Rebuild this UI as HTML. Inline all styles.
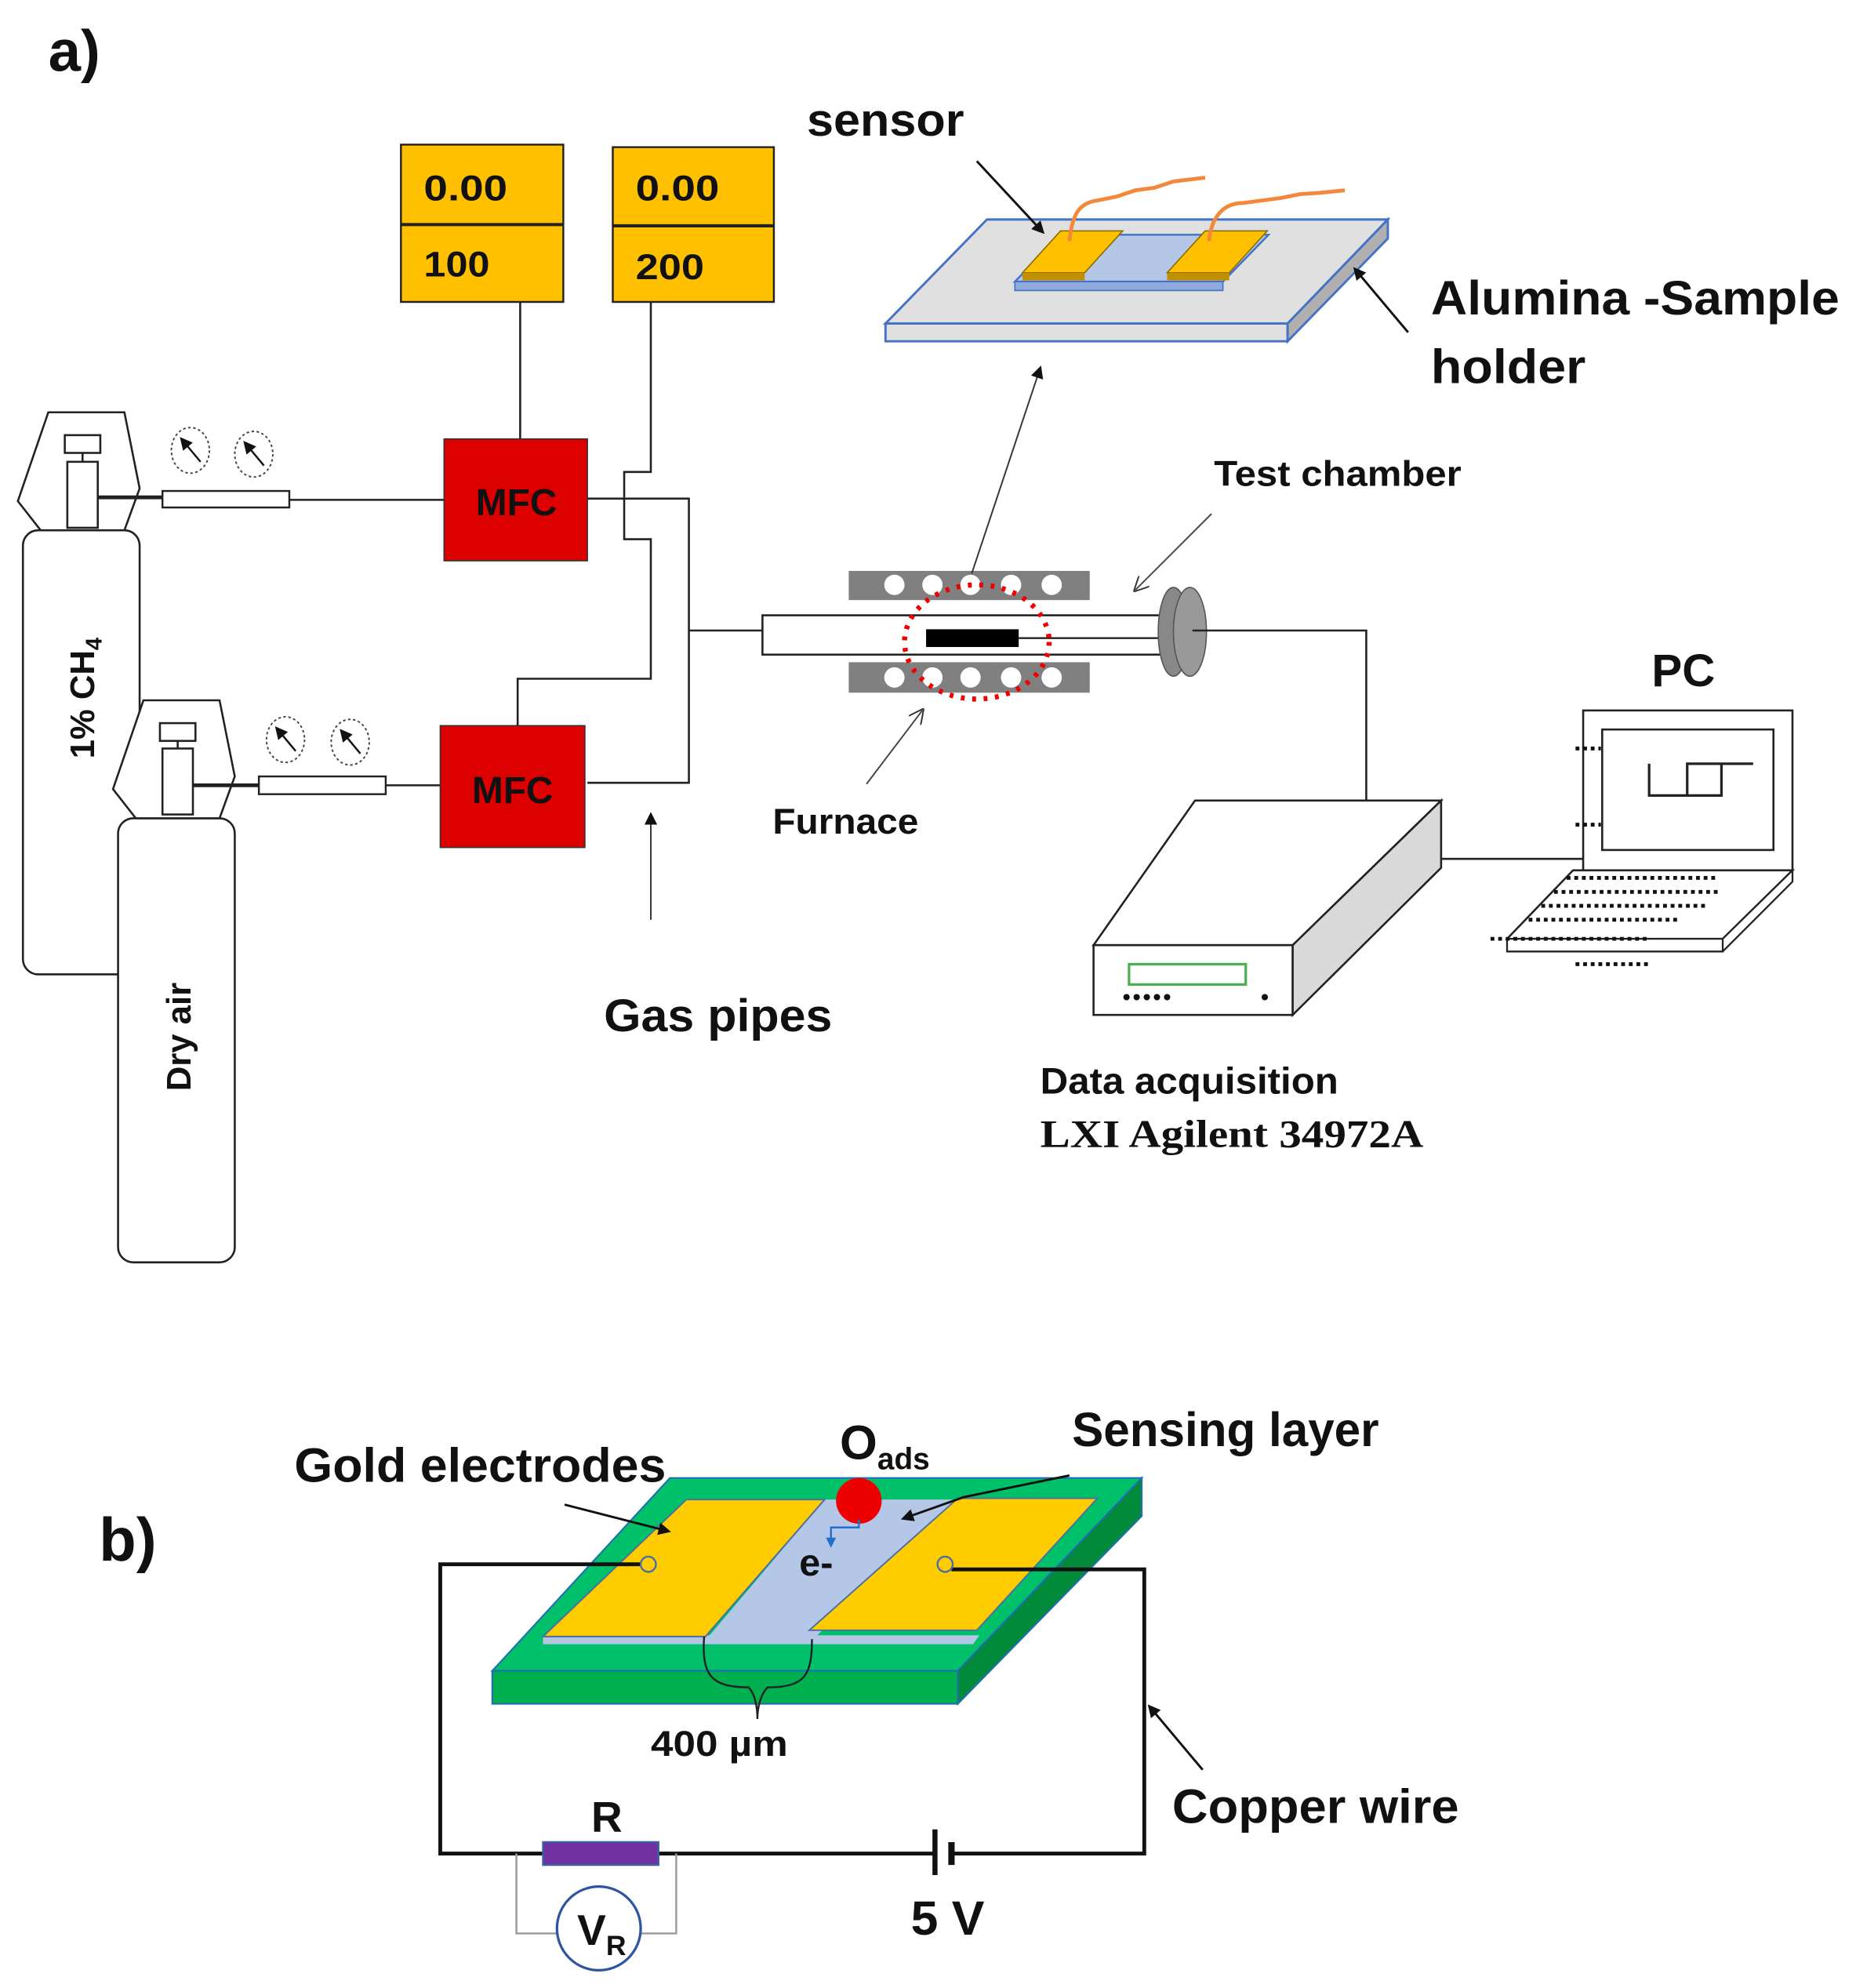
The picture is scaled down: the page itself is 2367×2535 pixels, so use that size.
<!DOCTYPE html>
<html><head><meta charset="utf-8"><style>
html,body{margin:0;padding:0;background:#fff}
svg{display:block}
text{font-family:"Liberation Sans",sans-serif;font-weight:bold;fill:#111}
</style></head><body>
<svg width="2367" height="2535" viewBox="0 0 1463 1567" xmlns="http://www.w3.org/2000/svg">
<defs>
<marker id="ah" markerWidth="10" markerHeight="10" refX="8" refY="5" orient="auto" markerUnits="userSpaceOnUse"><path d="M0,0 L10,5 L0,10 z" fill="#111"/></marker>
<marker id="ahs" markerWidth="12" markerHeight="12" refX="10" refY="6" orient="auto" markerUnits="userSpaceOnUse"><path d="M0,0 L12,6 L0,12 M12,6" fill="none" stroke="#333" stroke-width="1.2"/></marker>
</defs>
<rect width="1463" height="1567" fill="#fff"/>
<text x="38" y="56" font-size="46">a)</text>

<g stroke="#222" stroke-width="1.5">
<rect x="316" y="114" width="128" height="124" fill="#FFC000"/>
<line x1="316" y1="177" x2="444" y2="177" stroke-width="2.5"/>
<rect x="483" y="116" width="127" height="122" fill="#FFC000"/>
<line x1="483" y1="178" x2="610" y2="178" stroke-width="2.5"/>
</g>
<text x="334" y="158" font-size="28" textLength="66" lengthAdjust="spacingAndGlyphs">0.00</text>
<text x="334" y="218" font-size="28" textLength="52" lengthAdjust="spacingAndGlyphs">100</text>
<text x="501" y="158" font-size="28" textLength="66" lengthAdjust="spacingAndGlyphs">0.00</text>
<text x="501" y="220" font-size="28" textLength="54" lengthAdjust="spacingAndGlyphs">200</text>

<g fill="none" stroke="#222" stroke-width="1.6">
<line x1="410" y1="238" x2="410" y2="346"/>
<path d="M513,238 V372 H492 V425 H513 V535 H408 V572"/>
<path d="M463,393 H543 V617 H463"/>
<line x1="543" y1="497" x2="601" y2="497"/>
<line x1="228" y1="394" x2="350" y2="394"/>
<line x1="304" y1="619" x2="347" y2="619"/>
</g>

<rect x="350" y="346" width="113" height="96" fill="#DD0000" stroke="#333"/>
<rect x="347" y="572" width="114" height="96" fill="#DD0000" stroke="#333"/>
<text x="375" y="406" font-size="30" textLength="64" lengthAdjust="spacingAndGlyphs">MFC</text>
<text x="372" y="633" font-size="30" textLength="64" lengthAdjust="spacingAndGlyphs">MFC</text>

<g stroke="#222" stroke-width="1.6" fill="#fff">
<rect x="18" y="418" width="92" height="350" rx="12"/>
<path d="M38,325 H98 L110,385 L98,418 H32 L14,395 Z"/>
<rect x="93" y="645" width="92" height="350" rx="12"/>
<path d="M113,552 H173 L185,612 L173,645 H107 L89,622 Z"/>
</g>
<g fill="#fff" stroke="#222" stroke-width="1.6">
<rect x="53" y="364" width="24" height="52"/>
<rect x="51" y="343" width="28" height="14"/>
<line x1="65" y1="357" x2="65" y2="364"/>
<rect x="128" y="590" width="24" height="52"/>
<rect x="126" y="570" width="28" height="14"/>
<line x1="140" y1="584" x2="140" y2="590"/>
</g>
<g stroke="#222" stroke-width="3"><line x1="77" y1="392" x2="128" y2="392"/><line x1="152" y1="619" x2="204" y2="619"/></g>
<rect x="128" y="387" width="100" height="13" fill="#fff" stroke="#222" stroke-width="1.5"/>
<rect x="204" y="612" width="100" height="14" fill="#fff" stroke="#222" stroke-width="1.5"/>
<g fill="none" stroke="#444" stroke-width="1.2" stroke-dasharray="2,2">
<ellipse cx="150" cy="355" rx="15" ry="18"/><ellipse cx="200" cy="358" rx="15" ry="18"/>
<ellipse cx="225" cy="583" rx="15" ry="18"/><ellipse cx="276" cy="585" rx="15" ry="18"/>
</g>
<g stroke="#111" stroke-width="1.5" marker-end="url(#ah)">
<line x1="158" y1="364" x2="143" y2="346"/><line x1="208" y1="367" x2="193" y2="349"/>
<line x1="233" y1="592" x2="218" y2="574"/><line x1="284" y1="594" x2="269" y2="576"/>
</g>
<text transform="translate(74,598) rotate(-90)" font-size="27">1% CH<tspan font-size="18" dy="6">4</tspan></text>
<text transform="translate(150,860) rotate(-90)" font-size="27">Dry air</text>

<rect x="669" y="450" width="190" height="23" fill="#808080"/>
<rect x="669" y="522" width="190" height="24" fill="#808080"/>
<g fill="#fff"><circle cx="705" cy="461" r="8"/><circle cx="735" cy="461" r="8"/><circle cx="765" cy="461" r="8"/><circle cx="797" cy="461" r="8"/><circle cx="829" cy="461" r="8"/>
<circle cx="705" cy="534" r="8"/><circle cx="735" cy="534" r="8"/><circle cx="765" cy="534" r="8"/><circle cx="797" cy="534" r="8"/><circle cx="829" cy="534" r="8"/></g>
<rect x="601" y="485" width="319" height="31" fill="#fff" stroke="#222" stroke-width="1.6"/>
<line x1="803" y1="503" x2="920" y2="503" stroke="#222" stroke-width="1.5"/>
<rect x="730" y="496" width="73" height="14" fill="#000"/>
<ellipse cx="770" cy="506" rx="57" ry="45" fill="none" stroke="#E00" stroke-width="4" stroke-dasharray="3,6"/>
<ellipse cx="925" cy="498" rx="12" ry="35" fill="#888" stroke="#555"/>
<ellipse cx="938" cy="498" rx="13" ry="35" fill="#999" stroke="#555"/>
<g fill="none" stroke="#222" stroke-width="1.6"><path d="M940,497 H1077 V632"/><line x1="1136" y1="677" x2="1248" y2="677"/></g>

<path d="M698,255 L778,173 H1094 L1015,255 Z" fill="#E0E0E0" stroke="#4472C4" stroke-width="1.8"/>
<path d="M698,255 H1015 V269 H698 Z" fill="#E0E0E0" stroke="#4472C4" stroke-width="1.8"/>
<path d="M1015,255 L1094,173 V188 L1015,269 Z" fill="#B0B0B0" stroke="#4472C4" stroke-width="1.8"/>
<path d="M800,222 L836,185 H1000 L964,222 Z" fill="#B4C7E7" stroke="#4472C4" stroke-width="1.5"/>
<path d="M800,222 H964 V229 H800 Z" fill="#8FAADC" stroke="#4472C4"/>
<path d="M806,215 L836,182 H885 L855,215 Z" fill="#FFC000" stroke="#8a6d00"/>
<path d="M806,215 H855 V221 H806 Z" fill="#C09000"/>
<path d="M920,215 L950,182 H999 L969,215 Z" fill="#FFC000" stroke="#8a6d00"/>
<path d="M920,215 H969 V221 H920 Z" fill="#C09000"/>
<g fill="none" stroke="#F4883A" stroke-width="3">
<path d="M843,190 C845,170 850,160 865,158 L880,155 L895,150 L910,148 L925,143 L950,140"/>
<path d="M953,190 C955,170 965,160 980,160 L995,158 L1010,156 L1025,153 L1040,152 L1060,150"/>
</g>
<text x="636" y="107" font-size="36" textLength="124" lengthAdjust="spacingAndGlyphs">sensor</text>
<line x1="770" y1="127" x2="822" y2="183" stroke="#111" stroke-width="1.8" marker-end="url(#ah)"/>
<text x="1128" y="248" font-size="38" textLength="322" lengthAdjust="spacingAndGlyphs">Alumina -Sample</text>
<text x="1128" y="302" font-size="38" textLength="122" lengthAdjust="spacingAndGlyphs">holder</text>
<line x1="1110" y1="262" x2="1068" y2="212" stroke="#111" stroke-width="1.8" marker-end="url(#ah)"/>
<line x1="766" y1="452" x2="820" y2="290" stroke="#333" stroke-width="1.2" marker-end="url(#ah)"/>

<text x="957" y="383" font-size="28" textLength="195" lengthAdjust="spacingAndGlyphs">Test chamber</text>
<line x1="955" y1="405" x2="895" y2="465" stroke="#444" stroke-width="1.2" marker-end="url(#ahs)"/>
<text x="609" y="657" font-size="28" textLength="115" lengthAdjust="spacingAndGlyphs">Furnace</text>
<line x1="683" y1="618" x2="727" y2="560" stroke="#444" stroke-width="1.2" marker-end="url(#ahs)"/>
<text x="476" y="813" font-size="36" textLength="180" lengthAdjust="spacingAndGlyphs">Gas pipes</text>
<line x1="513" y1="725" x2="513" y2="642" stroke="#333" stroke-width="1.2" marker-end="url(#ah)"/>

<path d="M862,745 L942,631 H1136 L1019,745 Z" fill="#fff" stroke="#222" stroke-width="1.6"/>
<rect x="862" y="745" width="157" height="55" fill="#fff" stroke="#222" stroke-width="1.6"/>
<path d="M1019,745 L1136,631 V684 L1019,800 Z" fill="#D9D9D9" stroke="#222" stroke-width="1.6"/>
<rect x="890" y="760" width="92" height="16" fill="#fff" stroke="#4CAF50" stroke-width="2"/>
<g fill="#111"><circle cx="888" cy="786" r="2.5"/><circle cx="896" cy="786" r="2.5"/><circle cx="904" cy="786" r="2.5"/><circle cx="912" cy="786" r="2.5"/><circle cx="920" cy="786" r="2.5"/><circle cx="997" cy="786" r="2.5"/></g>
<text x="820" y="862" font-size="29" textLength="235" lengthAdjust="spacingAndGlyphs">Data acquisition</text>
<text x="820" y="904" font-size="31" style="font-family:'Liberation Serif',serif" textLength="302" lengthAdjust="spacingAndGlyphs">LXI Agilent 34972A</text>

<text x="1302" y="541" font-size="36" textLength="50" lengthAdjust="spacingAndGlyphs">PC</text>
<rect x="1248" y="560" width="165" height="126" fill="#fff" stroke="#222" stroke-width="1.6"/>
<rect x="1263" y="575" width="135" height="95" fill="#fff" stroke="#222" stroke-width="1.6"/>
<path d="M1300,602 V627 H1330 V602 H1357 V627 H1330 M1357,602 H1382" fill="none" stroke="#222" stroke-width="2"/>
<path d="M1188,740 L1240,686 H1413 L1358,740 Z" fill="#fff" stroke="#222" stroke-width="1.6"/>
<path d="M1188,740 H1358 V750 H1188 Z M1358,740 L1413,686 V695 L1358,750" fill="#fff" stroke="#222" stroke-width="1.4"/>
<g stroke="#111" stroke-width="3" stroke-dasharray="3,3">
<line x1="1235" y1="692" x2="1355" y2="692"/><line x1="1225" y1="703" x2="1355" y2="703"/><line x1="1215" y1="714" x2="1345" y2="714"/><line x1="1205" y1="725" x2="1325" y2="725"/><line x1="1175" y1="740" x2="1300" y2="740"/><line x1="1242" y1="760" x2="1302" y2="760"/>
<line x1="1242" y1="590" x2="1262" y2="590"/><line x1="1242" y1="650" x2="1262" y2="650"/>
</g>

<!-- part b -->
<text x="78" y="1230" font-size="48">b)</text>
<path d="M528,1165 H900 L755,1317 H388 Z" fill="#00C06A" stroke="#1f6fb0" stroke-width="1.3"/>
<rect x="388" y="1317" width="367" height="26" fill="#00B050" stroke="#1f6fb0" stroke-width="1.3"/>
<path d="M755,1317 L900,1165 V1195 L755,1343 Z" fill="#008A3A" stroke="#1f6fb0" stroke-width="1.3"/>
<path d="M650,1182 H755 L640,1293 H556 Z" fill="#B4C7E7"/>
<path d="M428,1289 H772 L767,1296 H428 Z" fill="#B4C7E7"/>
<path d="M541,1182 H650 L556,1290 H428 Z" fill="#FFCC00" stroke="#4a6fa0" stroke-width="1.2"/>
<path d="M755,1181 H865 L770,1285 H638 Z" fill="#FFCC00" stroke="#4a6fa0" stroke-width="1.2"/>
<g fill="none" stroke="#111" stroke-width="3">
<path d="M507,1233 H347 V1461 H428"/>
<line x1="519" y1="1461" x2="737" y2="1461"/>
<path d="M752,1461 H902 V1237 H750"/>
</g>
<line x1="737" y1="1442" x2="737" y2="1478" stroke="#111" stroke-width="4"/>
<line x1="750" y1="1452" x2="750" y2="1470" stroke="#111" stroke-width="5"/>
<circle cx="511" cy="1233" r="6" fill="#FFCC00" stroke="#4a6fa0" stroke-width="1.5"/>
<circle cx="745" cy="1233" r="6" fill="#FFCC00" stroke="#4a6fa0" stroke-width="1.5"/>
<circle cx="677" cy="1183" r="18" fill="#EE0000"/>
<path d="M677,1198 V1204 H655 V1214" fill="none" stroke="#1f6fd0" stroke-width="1.5"/>
<path d="M651,1212 L655,1220 L659,1212 Z" fill="#1f6fd0"/>
<text x="630" y="1242" font-size="30">e-</text>
<path d="M555,1290 C553,1320 560,1330 590,1330 C595,1335 597,1345 597,1355 C597,1345 600,1335 605,1330 C635,1330 640,1320 640,1292" fill="none" stroke="#222" stroke-width="1.5"/>
<text x="513" y="1384" font-size="28" textLength="108" lengthAdjust="spacingAndGlyphs">400 µm</text>
<text x="232" y="1168" font-size="38" textLength="293" lengthAdjust="spacingAndGlyphs">Gold electrodes</text>
<line x1="445" y1="1186" x2="527" y2="1207" stroke="#111" stroke-width="1.8" marker-end="url(#ah)"/>
<text x="662" y="1150" font-size="38">O<tspan font-size="24" dy="8">ads</tspan></text>
<text x="845" y="1140" font-size="38" textLength="242" lengthAdjust="spacingAndGlyphs">Sensing layer</text>
<path d="M843,1163 L760,1180 L712,1197" fill="none" stroke="#111" stroke-width="1.8" marker-end="url(#ah)"/>
<text x="924" y="1437" font-size="38" textLength="226" lengthAdjust="spacingAndGlyphs">Copper wire</text>
<line x1="948" y1="1395" x2="906" y2="1345" stroke="#111" stroke-width="1.8" marker-end="url(#ah)"/>
<rect x="428" y="1452" width="91" height="18" fill="#7030A0" stroke="#3b5fa0" stroke-width="1.5"/>
<text x="466" y="1444" font-size="34">R</text>
<path d="M407,1461 V1524 H440 M533,1461 V1524 H505" fill="none" stroke="#999" stroke-width="1.5"/>
<circle cx="472" cy="1520" r="33" fill="#fff" stroke="#2f55a0" stroke-width="2"/>
<text x="455" y="1533" font-size="34">V<tspan font-size="22" dy="8">R</tspan></text>
<text x="718" y="1525" font-size="38" textLength="58" lengthAdjust="spacingAndGlyphs">5 V</text>
</svg>
</body></html>
